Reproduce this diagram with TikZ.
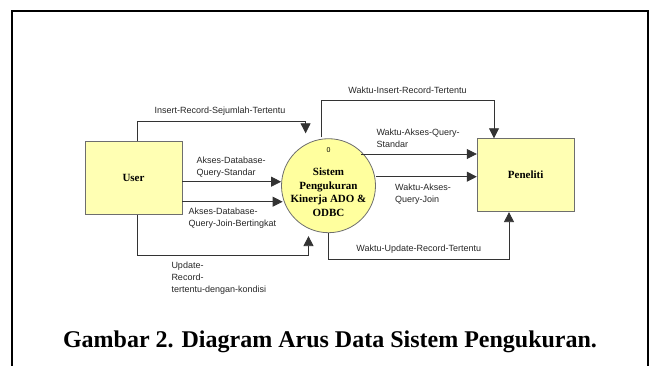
\documentclass[tikz,border=0pt]{standalone}
\usepackage{fontspec}
\setmainfont{Liberation Serif}
\setsansfont{Liberation Sans}
\usetikzlibrary{arrows.meta}
\definecolor{boxfill}{HTML}{FFFFB3}
\definecolor{circfill}{HTML}{FFFF9E}
\definecolor{edgegray}{HTML}{6E6E6E}
\tikzset{
  entity/.style={draw=edgegray, line width=0.8pt, fill=boxfill, minimum width=97pt,
    minimum height=73pt, inner sep=0pt, font=\fontsize{11}{13}\selectfont\bfseries},
  process/.style={circle, draw=edgegray, line width=0.8pt, fill=circfill,
    minimum size=94pt, inner sep=0pt},
  flow/.style={draw=black!80, line width=0.8pt, -{Triangle[length=10pt,width=10pt]}},
  lbl/.style={font=\sffamily\fontsize{9}{11.7}\selectfont, text=black!85, inner sep=0pt},
  % multi-line labels are placed by the baseline of their last line
  lblleft/.style={lbl, align=left, anchor=base west},
}
\begin{document}
\begin{tikzpicture}[x=1pt, y=-1pt]
\useasboundingbox (0,0) rectangle (651,365);
% page frame, running off the lower edge
\draw[line width=2.2pt] (12,380) -- (12,11) -- (648,11) -- (648,380);

% external entities and the process
\node[entity] (user) at (133.5,178) {User};
\node[entity] (peneliti) at (525.7,175.2) {Peneliti};
\node[process] (proc) at (328.5,185.7) {};
\node[font=\sffamily\fontsize{7}{8}\selectfont] (num) at (328.5,150.5) {0};
\node[font=\fontsize{11}{13.7}\selectfont\bfseries, align=center] (ptext) at (328.5,192.3)
  {Sistem\\Pengukuran\\Kinerja ADO \&\\ODBC};

% bend points of the routed flows
\coordinate (a1) at (137.2,121);
\coordinate (a2) at (305.6,121);
\coordinate (b1) at (137.2,255);
\coordinate (b2) at (308.5,255);
\coordinate (c1) at (321,100);
\coordinate (c2) at (494,100);
\coordinate (d1) at (328.5,259);
\coordinate (d2) at (509,259);

% User -> process
\draw[flow] (user.north -| a1) -- (a1) -- (a2) -- ([yshift=5pt]a2 |- proc.north);
\draw[flow] (user.east |- 0,181.7) -- (proc.west |- 0,181.7);
\draw[flow] (user.east |- 0,201.7) -- ([xshift=1.5pt]proc.west |- 0,201.7);
\draw[flow] (user.south -| b1) -- (b1) -- (b2) -- ([yshift=-3pt]b2 |- proc.south);

% process -> Peneliti
\draw[flow] ([yshift=1pt]proc.north -| c1) -- (c1) -- (c2) -- (c2 |- peneliti.north);
\draw[flow] (361,154) -- (peneliti.west |- 0,154);
\draw[flow] (proc.east |- 0,176.7) -- (peneliti.west |- 0,176.7);
\draw[flow] (proc.south) -- (d1) -- (d2) -- (d2 |- peneliti.south);

% flow labels
\node[lbl] (l1) at (220,111) {Insert-Record-Sejumlah-Tertentu};
\node[lblleft] (l2) at (196.3,175) {Akses-Database-\\Query-Standar};
\node[lblleft] (l3) at (188.4,226) {Akses-Database-\\Query-Join-Bertingkat};
\node[lblleft] (l4) at (171.3,292.3) {Update-\\Record-\\tertentu-dengan-kondisi};
\node[lbl] (l5) at (407.5,90) {Waktu-Insert-Record-Tertentu};
\node[lblleft] (l6) at (376.3,147.3) {Waktu-Akses-Query-\\Standar};
\node[lblleft] (l7) at (395,202.3) {Waktu-Akses-\\Query-Join};
\node[lbl] (l8) at (418.7,249.3) {Waktu-Update-Record-Tertentu};

% caption
\node[font=\fontsize{24}{28}\selectfont\bfseries] (cap) at (330,342) {Gambar 2. Diagram Arus Data Sistem Pengukuran.};
\end{tikzpicture}
\end{document}
